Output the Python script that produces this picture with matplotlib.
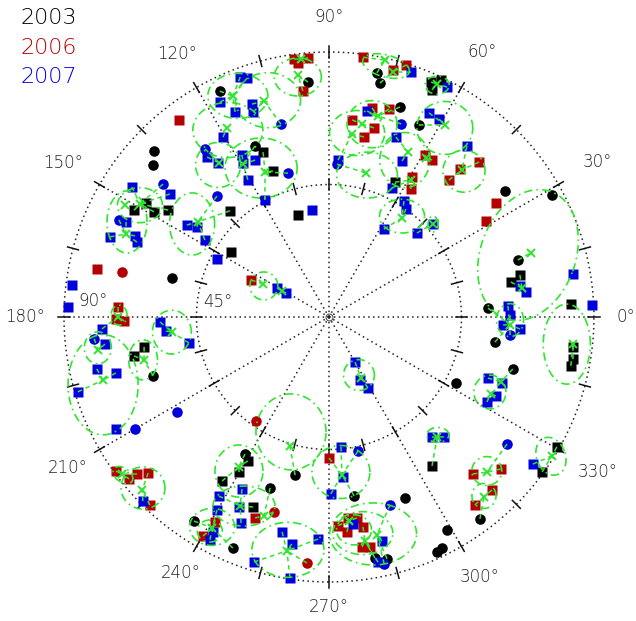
import numpy as np
import matplotlib
matplotlib.use('Agg')
import matplotlib.pyplot as plt

# ---------------- data (longitude deg, colatitude deg) ----------------
y2003_circ_lon = [136.5, 139.2, 115.8, 95.1, 113.4, 78.9, 77.7, 71.3, 64.9, 35.6, 28.7, 166.0, 198.5, 16.8, 3.2,
                  351.4, 344.2, 332.5, 236.5, 238.5, 257.9, 251.0, 247.4, 278.0, 292.8, 283.5, 306.8, 299.0, 296.1,
                  294.7, 280.8]
y2003_circ_col = [81.9, 79.0, 85.2, 80.1, 63.3, 84.5, 81.3, 75.3, 72.0, 73.5, 86.3, 54.9, 63.0, 67.0, 54.1,
                  57.0, 64.9, 48.6, 83.1, 54.6, 54.9, 61.4, 85.0, 61.4, 66.7, 84.5, 85.6, 82.7, 87.3,
                  87.8, 83.3]

y2003_sq_lon = [151.3, 148.1, 149.0, 146.4, 111.8, 111.0, 133.0, 106.9, 146.4, 66.5, 64.7, 65.6, 63.9, 12.4, 10.9,
                3.1, 353.0, 350.2, 348.6, 189.2, 191.3, 240.6, 239.9, 236.9, 248.2, 304.7, 324.0, 330.3]
y2003_sq_col = [75.5, 73.2, 69.3, 65.6, 60.3, 53.1, 49.3, 36.2, 39.9, 87.0, 89.0, 84.7, 51.0, 66.4, 62.9,
                82.3, 83.5, 84.1, 83.8, 63.6, 67.5, 56.1, 60.9, 66.5, 69.5, 61.5, 89.5, 89.1]

y2006_sq_lon = [127.3, 97.7, 94.6, 97.0, 96.6, 82.5, 75.5, 73.0, 78.4, 73.9, 83.3, 76.6, 79.0, 59.4, 56.7,
                59.3, 57.4, 45.9, 48.5, 48.8, 34.3, 31.4, 168.3, 177.3, 180.5, 181.1, 154.6, 215.9, 219.0,
                219.3, 220.8, 226.4, 240.1, 240.9, 249.8, 270.0, 272.5, 275.4, 277.9, 274.8, 279.2, 278.2,
                280.1, 312.5, 318.5, 313.3, 307.8]
y2006_sq_col = [84.1, 88.4, 88.3, 86.9, 77.3, 89.0, 86.7, 89.5, 72.5, 73.5, 67.4, 66.0, 62.3, 64.0, 63.8,
                55.3, 51.6, 73.3, 67.1, 61.8, 68.7, 62.5, 80.5, 71.7, 72.3, 69.6, 29.3, 89.3, 87.4,
                84.2, 81.1, 88.2, 85.8, 79.7, 72.7, 47.9, 70.9, 68.6, 68.9, 73.3, 72.2, 78.9,
                79.3, 72.3, 77.9, 80.7, 80.8]

y2006_circ_lon = [167.7, 234.9, 254.2, 264.9]
y2006_circ_col = [71.9, 43.2, 68.8, 83.9]

y2007_sq_lon = [142.3, 146.6, 127.3, 110.3, 108.9, 116.9, 114.6, 109.9, 110.3, 120.5,
                125.8, 118.2, 119.2, 115.2, 120.6, 118.7, 99.0, 152.6, 150.9, 150.8,
                154.9, 159.9, 157.3, 158.7, 147.1, 145.7, 148.2, 172.9, 177.8, 183.0,
                186.9, 192.6, 194.7, 196.6, 181.7, 184.9, 190.5, 207.7, 224.7, 243.2,
                238.4, 244.7, 239.9, 246.9, 241.6, 241.9, 257.7, 260.7, 267.2, 253.0,
                261.5, 275.3, 275.0, 270.6, 276.6, 283.3, 281.3, 62.8, 71.5, 79.5,
                69.6, 63.9, 60.9, 51.1, 86.7, 64.9, 64.0, 57.1, 54.5, 58.0,
                43.7, 41.8, 10.0, 2.6, 9.2, 7.2, 3.5, 0.6, 357.4, 356.4,
                339.0, 339.1, 334.7, 331.7, 300.0, 296.2, 298.8, 310.6, 313.8, 324.2]
y2007_sq_col = [68.3, 80.2, 68.3, 86.9, 85.8, 81.9, 76.6, 76.9, 74.2, 70.9,
                64.5, 62.5, 59.9, 58.9, 54.1, 45.3, 36.8, 42.8, 20.2, 16.7,
                76.1, 79.2, 71.4, 70.0, 57.5, 54.3, 49.6, 88.0, 88.7, 77.2,
                76.6, 80.8, 74.8, 89.0, 57.4, 55.6, 48.4, 81.7, 88.9, 65.5,
                71.4, 71.4, 75.8, 76.1, 83.0, 85.8, 74.7, 78.1, 75.5, 87.0,
                89.6, 44.3, 54.5, 60.1, 70.8, 78.2, 84.9, 87.8, 87.7, 71.1,
                65.2, 77.2, 76.9, 74.6, 53.4, 58.5, 48.8, 46.9, 45.0, 35.2,
                41.3, 47.4, 84.1, 89.4, 65.7, 67.4, 60.9, 61.5, 59.2, 65.0,
                57.8, 62.9, 62.7, 60.9, 17.7, 23.8, 27.5, 53.7, 56.4, 85.4]

y2007_circ_lon = [141.3, 126.4, 104.0, 105.9, 132.8, 69.5, 87.0, 155.2, 185.3, 212.0, 210.0, 282.2, 288.0,
                  282.6, 354.3, 324.5]
y2007_circ_col = [72.2, 70.9, 67.5, 50.8, 56.0, 70.0, 52.0, 78.6, 80.1, 60.9, 76.1, 46.6, 67.1,
                  85.9, 61.8, 74.3]

# group centroids (green crosses)
cent_lon = [96.2, 97.3, 113.5, 106.7, 118.4, 125.5, 119.3, 113.8, 77.7, 75.4,
            65.1, 76.3, 80.3, 82.8, 58.9, 64.4, 75.6, 59.1, 58.6, 47.9,
            53.6, 157.8, 144.0, 180.0, 188.1, 195.6, 185.5, 193.1, 217.2, 222.8,
            153.4, 151.0, 297.7, 357.5, 334.6, 339.3, 17.6, 8.5, 353.7, 328.1,
            315.5, 310.7, 253.2, 239.0, 274.7, 244.8, 251.9, 259.8, 275.6, 279.1,
            282.4, 241.0, 41.8, 312.0, 151.2, 149.1]
cent_col = [88.1, 82.9, 81.8, 76.6, 72.9, 64.3, 59.6, 53.8, 89.3, 86.0,
            87.2, 70.3, 66.5, 62.6, 76.2, 62.1, 50.5, 54.2, 63.3, 67.3,
            41.8, 74.5, 55.0, 71.7, 79.2, 79.7, 53.6, 64.5, 88.2, 86.5,
            25.1, 18.2, 23.4, 61.5, 60.9, 62.4, 72.0, 66.3, 83.4, 89.2,
            75.2, 80.7, 45.8, 59.4, 53.8, 70.9, 71.1, 80.7, 69.6, 77.1,
            75.8, 81.9, 47.4, 54.9, 79.0, 74.8]

# group ellipses: centre (lon, colat), full width / height (deg), rotation (deg)
ell_lon = [97.4, 112.4, 105.7, 118.4, 114.5, 126.1, 77.2, 65.0, 81.3, 77.4, 58.5, 75.0, 47.2, 54.1, 64.2,
           17.3, 353.5, 359.0, 335.0, 297.3, 154.5, 154.8, 149.4, 145.8, 185.5, 187.6, 196.7, 193.0, 179.5,
           217.5, 222.6, 251.7, 239.7, 274.4, 245.8, 240.9, 240.9, 260.0, 281.5, 278.9, 276.7, 315.7, 310.9,
           327.9, 312.7, 41.8]
ell_col = [82.2, 81.2, 76.5, 72.2, 55.6, 63.9, 87.4, 86.9, 63.2, 67.1, 75.3, 49.9, 67.5, 42.3, 59.2,
           70.8, 81.3, 61.5, 60.3, 22.2, 24.5, 75.8, 74.6, 56.2, 53.6, 79.2, 80.1, 64.8, 71.3,
           88.2, 85.8, 41.1, 60.6, 52.8, 70.4, 81.6, 83.2, 80.3, 75.2, 74.3, 72.8, 74.9, 80.4,
           89.0, 54.5, 47.4]
ell_w = [16.0, 20.4, 22.1, 23.8, 24.5, 15.3, 16.3, 8.2, 18.7, 17.0, 19.0, 20.7, 14.3, 15.3, 17.0,
         32.3, 16.0, 9.2, 10.9, 10.5, 9.5, 13.6, 15.3, 15.3, 13.2, 9.2, 23.8, 9.8, 5.4,
         7.5, 14.9, 23.8, 16.3, 19.7, 21.1, 15.3, 8.5, 24.5, 29.5, 20.4, 11.9, 10.2, 8.2,
         9.8, 7.5, 3.4]
ell_h = [12.9, 15.3, 18.7, 18.7, 20.4, 15.3, 7.5, 6.1, 15.3, 16.0, 18.0, 15.6, 14.3, 11.5, 18.7,
         45.8, 27.2, 11.2, 11.5, 10.5, 9.5, 21.1, 11.9, 21.1, 14.9, 10.9, 34.0, 13.6, 6.8,
         4.8, 14.3, 25.8, 17.7, 18.0, 13.6, 12.6, 7.5, 18.7, 21.1, 14.6, 10.2, 9.8, 8.5,
         13.2, 5.1, 5.4]
ell_rot = [0, 0, 0, 0, 0, 0, -15, 0, 0, 0, 0, 0, 0, 0, 0,
           -20, 0, 0, 0, 0, 0, 0, 0, 0, 0, 0, 0, 0, 0,
           -35, 0, 0, 0, 0, 0, 0, 0, 0, 0, 0, 0, 0, 0,
           20, 0, 0]

grid_radii = [45, 90]
spoke_angles = list(range(0, 360, 30))
tick_angles = list(range(0, 360, 15))
angle_labels = ['0°', '30°', '60°', '90°', '120°', '150°', '180°', '210°', '240°', '270°', '300°', '330°']
angle_label_r = [100.9, 105.2, 104.0, 101.9, 103.1, 104.4, 103.2, 102.6, 100.5, 98.5, 102.1, 105.3]
radial_labels = ['90°', '45°']
years = ['2003', '2006', '2007']

# ---------------- styling ----------------
BLACK = '#000000'
RED = '#b40000'
BLUE = '#0000dc'
GREEN = '#2ee62e'
FONT = 'DejaVu Sans'
WEIGHT = 'light'

fig = plt.figure(figsize=(6.36, 6.21), dpi=100)
ax = fig.add_axes([0.1006, 0.0628, 0.8333, 0.8535], projection='polar')
ax.set_rlim(0, 90)
ax.set_axis_off()

dot = (0, (1, 2.2))
th = np.linspace(0, 2 * np.pi, 721)
for rr in grid_radii:
    ax.plot(th, np.full_like(th, rr), ls=dot, color='#222222', lw=1.1, clip_on=False, zorder=1)
for a in spoke_angles:
    ax.plot([np.deg2rad(a)] * 2, [0, 90], ls=dot, color='#222222', lw=1.1, clip_on=False, zorder=1)
for rr in grid_radii:
    for a in tick_angles:
        ax.plot([np.deg2rad(a)] * 2, [rr - 1.9, rr + 1.9], color='#111111', lw=1.1,
                clip_on=False, zorder=1)
ax.plot([0], [0], marker='o', ms=5, mfc='none', mec='#555555', mew=0.8, zorder=1)

for a, lab, lr in zip(spoke_angles, angle_labels, angle_label_r):
    ax.text(np.deg2rad(a), lr, lab, ha='center', va='center', fontsize=12,
            family=FONT, weight=WEIGHT, color='#222222')
ax.text(np.deg2rad(176.1), 80.4, radial_labels[0], ha='center', va='center', fontsize=12,
        family=FONT, weight=WEIGHT, color='#222222')
ax.text(np.deg2rad(172.3), 38.0, radial_labels[1], ha='center', va='center', fontsize=12,
        family=FONT, weight=WEIGHT, color='#222222')


def pts(lon, col, marker, color, ms, z):
    ax.plot(np.deg2rad(lon), col, ls='none', marker=marker, ms=ms, mfc=color, mec='none',
            clip_on=False, zorder=z)


pts(y2003_circ_lon, y2003_circ_col, 'o', BLACK, 7.6, 3)
pts(y2003_sq_lon, y2003_sq_col, 's', BLACK, 7.6, 3)
pts(y2006_circ_lon, y2006_circ_col, 'o', RED, 7.6, 4)
pts(y2006_sq_lon, y2006_sq_col, 's', RED, 7.6, 4)
pts(y2007_circ_lon, y2007_circ_col, 'o', BLUE, 7.6, 5)
pts(y2007_sq_lon, y2007_sq_col, 's', BLUE, 7.6, 5)


def xy(lon, col):
    lon = np.deg2rad(np.asarray(lon, float))
    col = np.asarray(col, float)
    return col * np.cos(lon), col * np.sin(lon)


# member -> nearest centroid connectors (dashed green)
all_lon = (y2003_circ_lon + y2003_sq_lon + y2006_sq_lon + y2006_circ_lon + y2007_sq_lon + y2007_circ_lon)
all_col = (y2003_circ_col + y2003_sq_col + y2006_sq_col + y2006_circ_col + y2007_sq_col + y2007_circ_col)
mx, my = xy(all_lon, all_col)
cx_, cy_ = xy(cent_lon, cent_col)
for px, py in zip(mx, my):
    d = np.hypot(cx_ - px, cy_ - py)
    k = int(np.argmin(d))
    if d[k] < 12:
        sx = np.linspace(px, cx_[k], 20)
        sy = np.linspace(py, cy_[k], 20)
        ax.plot(np.arctan2(sy, sx), np.hypot(sx, sy), color=GREEN, lw=1.1, ls=(0, (3, 2.5)),
                clip_on=False, zorder=6)

t = np.linspace(0, 2 * np.pi, 200)
for lo, co, w, h, rot in zip(ell_lon, ell_col, ell_w, ell_h, ell_rot):
    cx, cy = xy(lo, co)
    ex, ey = w / 2 * np.cos(t), h / 2 * np.sin(t)
    rr_ = np.deg2rad(rot)
    x = cx + ex * np.cos(rr_) - ey * np.sin(rr_)
    y = cy + ex * np.sin(rr_) + ey * np.cos(rr_)
    ax.plot(np.arctan2(y, x), np.hypot(x, y), color=GREEN, lw=1.2, ls=(0, (5, 2.5, 1, 2.5)),
            clip_on=False, zorder=6)

ax.plot(np.deg2rad(cent_lon), cent_col, ls='none', marker='x', ms=6, mew=1.4, color=GREEN,
        clip_on=False, zorder=7)

for i, (yr, c) in enumerate(zip(years, [BLACK, RED, BLUE])):
    fig.text(20 / 636, 1 - (24 + 29.5 * i) / 621, yr, color=c, fontsize=16, family=FONT,
             weight=WEIGHT, ha='left', va='baseline')

fig.savefig('out.png', dpi=100)
